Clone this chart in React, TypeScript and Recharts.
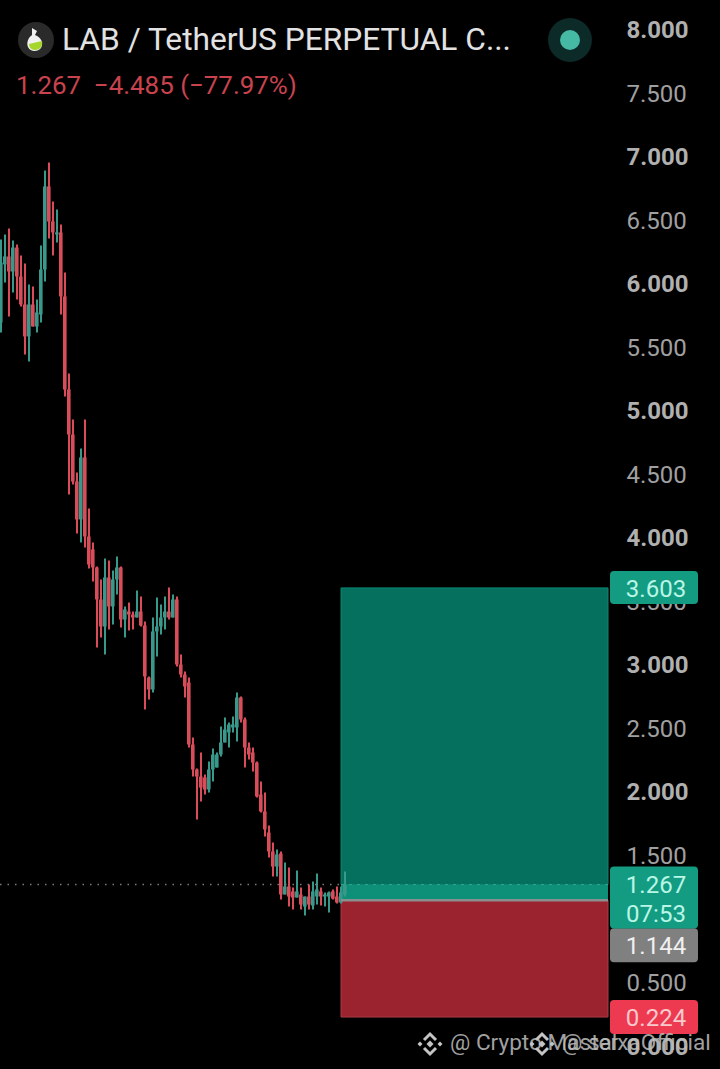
import React from 'react';
import { ComposedChart, Bar, Line, XAxis, YAxis, ReferenceArea, ReferenceLine, Rectangle } from 'recharts';

const opens = [5.693, 6.150, 6.213, 6.094, 6.283, 6.055, 5.835, 5.583, 5.835, 5.661, 5.756, 6.110, 6.764, 6.488, 6.386, 6.402, 5.898, 5.165, 4.811, 4.441, 4.142, 4.630, 4.008, 3.906, 3.764, 3.512, 3.299, 3.685, 3.457, 3.669, 3.764, 3.354, 3.417, 3.394, 3.370, 3.417, 3.307, 2.898, 2.803, 3.260, 3.299, 3.370, 3.417, 3.370, 3.512, 3.000, 2.921, 2.858, 2.370, 2.173, 2.118, 2.110, 2.016, 2.173, 2.189, 2.291, 2.386, 2.465, 2.504, 2.504, 2.740, 2.567, 2.346, 2.307, 2.228, 1.976, 1.843, 1.677, 1.528, 1.409, 1.512, 1.189, 1.252, 1.213, 1.165, 1.189, 1.094, 1.173, 1.102, 1.173, 1.213, 1.173, 1.173, 1.213, 1.173, 1.126, 1.189];
const highs = [6.346, 6.386, 6.433, 6.339, 6.307, 6.220, 6.157, 5.992, 5.976, 5.874, 6.299, 6.890, 6.953, 6.646, 6.583, 6.465, 6.087, 5.291, 4.929, 4.512, 4.701, 4.929, 4.228, 3.961, 3.772, 3.669, 3.835, 3.819, 3.740, 3.850, 3.772, 3.457, 3.488, 3.417, 3.583, 3.535, 3.339, 2.906, 3.370, 3.528, 3.472, 3.535, 3.606, 3.551, 3.535, 3.079, 2.945, 2.898, 2.425, 2.181, 2.307, 2.134, 2.236, 2.339, 2.307, 2.512, 2.583, 2.543, 2.591, 2.780, 2.748, 2.583, 2.386, 2.346, 2.236, 2.079, 1.992, 1.732, 1.598, 1.543, 1.528, 1.441, 1.402, 1.244, 1.378, 1.244, 1.173, 1.268, 1.291, 1.354, 1.244, 1.205, 1.213, 1.228, 1.252, 1.252, 1.370];
const lows = [5.614, 6.008, 5.740, 5.929, 5.874, 5.819, 5.441, 5.386, 5.661, 5.614, 5.693, 6.016, 6.354, 6.220, 6.323, 5.756, 5.110, 4.339, 4.417, 4.031, 3.961, 3.921, 3.756, 3.654, 3.134, 3.213, 3.079, 3.276, 3.315, 3.551, 3.291, 3.213, 3.268, 3.276, 3.370, 3.299, 2.646, 2.724, 2.780, 3.063, 3.236, 3.276, 3.354, 3.370, 2.984, 2.898, 2.740, 2.346, 2.118, 1.780, 1.921, 1.976, 1.992, 2.079, 2.189, 2.276, 2.386, 2.346, 2.465, 2.394, 2.543, 2.189, 2.252, 2.157, 1.953, 1.835, 1.646, 1.480, 1.331, 1.331, 1.150, 1.189, 1.094, 1.071, 1.165, 1.071, 1.024, 1.071, 1.071, 1.110, 1.102, 1.094, 1.047, 1.150, 1.118, 1.118, 1.173];
const closes = [6.165, 6.213, 6.094, 6.283, 6.055, 5.835, 5.583, 5.835, 5.661, 5.772, 6.110, 6.764, 6.488, 6.402, 6.402, 5.898, 5.165, 4.811, 4.441, 4.142, 4.630, 4.008, 3.787, 3.764, 3.512, 3.299, 3.685, 3.457, 3.669, 3.764, 3.354, 3.433, 3.394, 3.370, 3.417, 3.307, 2.906, 2.803, 3.260, 3.299, 3.370, 3.417, 3.370, 3.512, 3.000, 2.921, 2.827, 2.370, 2.173, 2.118, 2.031, 2.016, 2.173, 2.291, 2.291, 2.386, 2.488, 2.528, 2.528, 2.740, 2.567, 2.346, 2.291, 2.228, 1.961, 1.843, 1.701, 1.528, 1.409, 1.504, 1.189, 1.252, 1.173, 1.165, 1.213, 1.110, 1.173, 1.110, 1.213, 1.228, 1.173, 1.189, 1.205, 1.157, 1.126, 1.205, 1.267];

const priceTicks = [0, 0.5, 1, 1.5, 2, 2.5, 3, 3.5, 4, 4.5, 5, 5.5, 6, 6.5, 7, 7.5, 8];

const targetPrice = 3.603;
const lastPrice = 1.267;
const entryPrice = 1.144;
const stopPrice = 0.224;
const pillPrices = [stopPrice, entryPrice, lastPrice, targetPrice];
const priceDomain = [-0.185, 8.232];
const zoneStart = 85;
const zoneEnd = 151.75;

const candles = opens.map((open, i) => ({
    i,
    open,
    close: closes[i],
    wick: [lows[i], highs[i]],
    body: [Math.min(open, closes[i]), Math.max(open, closes[i])],
}));

const UP = '#38998a';
const DOWN = '#d94c5a';
const FONT = 'Roboto, sans-serif';

const pillStyles: Record<number, any> = {
    [targetPrice]: { lines: ['3.603'], fill: '#149c83', color: '#b9f6e6', top: -17, height: 33 },
    [lastPrice]: { lines: ['1.267', '07:53'], fill: '#149c83', color: '#b9f6e6', top: -18, height: 62 },
    [entryPrice]: { lines: ['1.144'], fill: '#808080', color: '#f0f0f0', top: 28, height: 34 },
    [stopPrice]: { lines: ['0.224'], fill: '#ee3a50', color: '#f8c9cd', top: -17, height: 34 },
};

const CandlePart = (props: any) => {
    const { payload } = props;
    return <Rectangle {...props} fill={payload.close >= payload.open ? UP : DOWN} stroke="none" />;
};

const PriceTick = ({ y, payload }: any) => {
    const isWhole = Number.isInteger(payload.value);
    return (
        <text x={626.5} y={y} dy={9} fontSize={24} fontFamily={FONT} fontWeight={isWhole ? 700 : 400} fill={isWhole ? '#b0b0b0' : '#a0a0a0'}>
            {payload.value.toFixed(3)}
        </text>
    );
};

const PricePill = ({ y, payload }: any) => {
    const { lines, fill, color, top, height } = pillStyles[payload.value];
    return (
        <g>
            <rect x={610} y={y + top} width={88} height={height} rx={4} fill={fill} />
            {lines.map((line: string, n: number) => (
                <text key={line} x={656} y={y + top + 26 + n * 29} textAnchor="middle" fontSize={24} fontFamily={FONT} fill={color}>
                    {line}
                </text>
            ))}
        </g>
    );
};

const BinanceMark = ({ left }: { left: number }) => (
    <svg width={28} height={28} viewBox="0 0 28 28" style={{ position: 'absolute', left, top: 1030 }}>
        <g fill="none" stroke="#c4c4c4" strokeWidth={3}>
            <path d="M8 10 L14 4 L20 10" />
            <path d="M8 18 L14 24 L20 18" />
        </g>
        <path d="M14 10.5 L17.5 14 L14 17.5 L10.5 14 Z" fill="#c4c4c4" />
        <path d="M4 11.5 L6.5 14 L4 16.5 L1.5 14 Z M24 11.5 L26.5 14 L24 16.5 L21.5 14 Z" fill="#c4c4c4" />
    </svg>
);

const App: React.FC = () => {
    return (
        <div style={{ position: 'absolute', left: 0, top: 0, width: 720, height: 1069, background: '#000', overflow: 'hidden', fontFamily: FONT }}>
            <ComposedChart width={720} height={1069} data={candles} margin={{ top: 0, right: 0, bottom: 0, left: 0 }}>
                <XAxis xAxisId="wicks" type="number" dataKey="i" domain={[-0.25, 179.75]} hide />
                <XAxis xAxisId="bodies" type="number" dataKey="i" domain={[-0.25, 179.75]} hide />
                <YAxis
                    type="number"
                    orientation="right"
                    mirror
                    width={100}
                    domain={priceDomain}
                    ticks={priceTicks}
                    interval={0}
                    axisLine={false}
                    tickLine={false}
                    tick={<PriceTick />}
                />
                {/* second axis only so the price pills paint over the plain tick labels */}
                <YAxis
                    yAxisId="pills"
                    type="number"
                    orientation="right"
                    mirror
                    width={100}
                    domain={priceDomain}
                    ticks={pillPrices}
                    interval={0}
                    axisLine={false}
                    tickLine={false}
                    tick={<PricePill />}
                />

                <ReferenceArea xAxisId="wicks" x1={zoneStart} x2={zoneEnd} y1={lastPrice} y2={targetPrice} fill="#06705e" fillOpacity={1} stroke="#0b8570" />
                <ReferenceArea xAxisId="wicks" x1={zoneStart} x2={zoneEnd} y1={entryPrice} y2={lastPrice} fill="#0d8f78" fillOpacity={1} />
                <ReferenceArea xAxisId="wicks" x1={zoneStart} x2={zoneEnd} y1={stopPrice} y2={entryPrice} fill="#9b2330" fillOpacity={1} stroke="#a83a44" />

                <Bar xAxisId="wicks" dataKey="wick" barSize={2} shape={<CandlePart />} isAnimationActive={false} />
                <Bar xAxisId="bodies" dataKey="body" barSize={3.6} shape={<CandlePart />} isAnimationActive={false} />
                {/* invisible, keeps the pills axis alive */}
                <Line xAxisId="wicks" yAxisId="pills" dataKey="close" stroke="none" strokeWidth={0} dot={false} activeDot={false} isAnimationActive={false} />

                <ReferenceLine xAxisId="wicks" segment={[{ x: -0.25, y: lastPrice }, { x: zoneStart, y: lastPrice }]} stroke="#7a7a7a" strokeWidth={1.5} strokeDasharray="1.5 6" />
                <ReferenceLine xAxisId="wicks" segment={[{ x: zoneStart, y: lastPrice }, { x: zoneEnd, y: lastPrice }]} stroke="#2fa893" strokeWidth={1} strokeDasharray="3 5" />
                <ReferenceLine xAxisId="wicks" segment={[{ x: zoneStart, y: entryPrice }, { x: zoneEnd, y: entryPrice }]} stroke="#8b8f8d" strokeWidth={2.5} />
            </ComposedChart>

            <svg width={40} height={40} viewBox="0 0 40 40" style={{ position: 'absolute', left: 16, top: 20 }}>
                <circle cx={20} cy={20} r={18} fill="#2a2a2a" />
                <path d="M16 8 L21 11 L19 15 C25 17 28 23 25 28 C22 32 14 32 12 27 C10 22 13 17 16 15 Z" fill="#f1f1f1" />
                <path d="M13 24 L26 21 C27 26 24 30 19 30 C15 30 13 27 13 24 Z" fill="#a5d62c" />
            </svg>
            <div style={{ position: 'absolute', left: 62, top: 22, fontSize: 31.7, lineHeight: '36px', color: '#e2e2e2', whiteSpace: 'nowrap' }}>
                LAB / TetherUS PERPETUAL C...
            </div>
            <div style={{ position: 'absolute', left: 16, top: 70, fontSize: 25.9, lineHeight: '30px', color: '#c8434d', whiteSpace: 'pre' }}>
                1.267  −4.485 (−77.97%)
            </div>
            <svg width={48} height={48} viewBox="0 0 48 48" style={{ position: 'absolute', left: 546, top: 16 }}>
                <circle cx={24} cy={24} r={22} fill="#0c2a28" />
                <circle cx={24} cy={24} r={10} fill="#45b9a4" />
            </svg>

            <BinanceMark left={416} />
            <div style={{ position: 'absolute', left: 450, top: 1029, fontSize: 22.6, lineHeight: '28px', color: '#bdbdbd', opacity: 0.85, whiteSpace: 'nowrap' }}>
                @ Crypto Master
            </div>
            <BinanceMark left={528} />
            <div style={{ position: 'absolute', left: 562, top: 1029, fontSize: 22.6, lineHeight: '28px', color: '#bdbdbd', opacity: 0.85, whiteSpace: 'nowrap' }}>
                @ salxaOfficial
            </div>
        </div>
    );
};

export default App;
